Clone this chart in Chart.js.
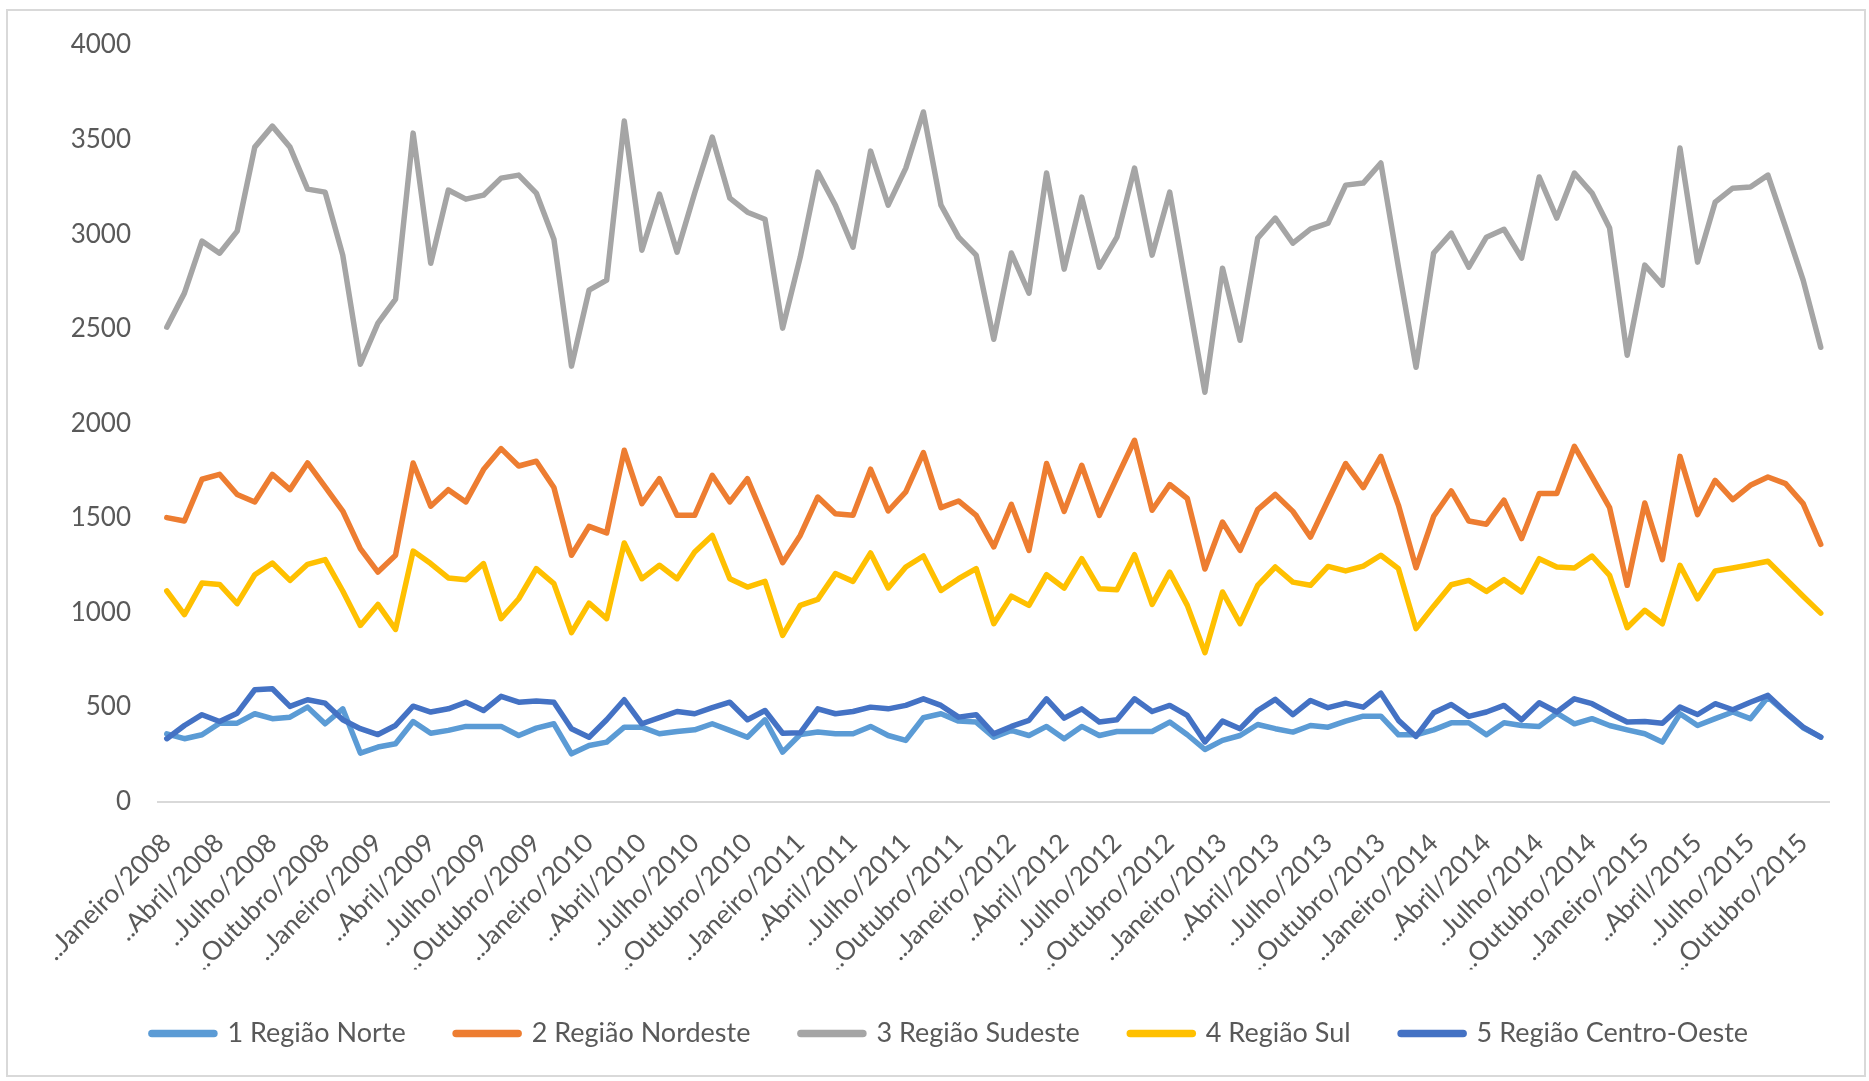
<!DOCTYPE html>
<html>
<head>
<meta charset="utf-8">
<script src="https://cdn.jsdelivr.net/npm/chart.js@4.4.0/dist/chart.umd.min.js"></script>
<style>
    html, body { margin: 0; padding: 0; background: #fff; }
    #frame { position: absolute; left: 6px; top: 9px; width: 1856px; height: 1064px; border: 2px solid #d9d9d9; }
    #wrap { position: absolute; left: 0; top: 0; width: 1869px; height: 1081px; }
</style>
</head>
<body>
<div id="frame"></div>
<div id="wrap"><canvas id="myChart"></canvas></div>
<script>
// months Jan/2008 .. Nov/2015
const meses = ['Janeiro', 'Fevereiro', 'Março', 'Abril', 'Maio', 'Junho', 'Julho', 'Agosto', 'Setembro', 'Outubro', 'Novembro', 'Dezembro'];
const anos = [2008, 2009, 2010, 2011, 2012, 2013, 2014, 2015];

const norte = [358,332,353,414,414,464,438,446,499,411,490,256,288,305,423,361,376,397,397,397,349,388,411,252,296,314,393,393,358,370,379,411,376,340,432,261,354,367,358,358,397,349,323,443,464,425,420,340,376,349,397,332,397,349,370,370,370,420,353,275,323,349,407,385,367,402,393,425,451,451,353,353,379,416,416,353,416,402,397,467,411,438,402,379,358,314,464,402,438,473,438,552,470,390,340];
const nordeste = [1501,1483,1704,1730,1623,1584,1730,1649,1790,1663,1536,1337,1213,1302,1790,1561,1649,1584,1755,1866,1774,1799,1660,1302,1455,1420,1857,1575,1707,1513,1513,1725,1584,1707,1487,1263,1407,1610,1522,1513,1757,1536,1637,1845,1554,1589,1513,1346,1571,1328,1787,1534,1778,1513,1713,1910,1540,1676,1602,1229,1478,1328,1543,1624,1534,1398,1593,1787,1660,1825,1566,1236,1508,1642,1483,1466,1593,1390,1628,1628,1878,1716,1554,1143,1578,1279,1825,1517,1698,1596,1672,1716,1681,1575,1360];
const sudeste = [2508,2688,2963,2899,3016,3460,3571,3460,3238,3222,2889,2312,2529,2656,3534,2846,3233,3185,3206,3296,3312,3217,2973,2302,2704,2757,3598,2915,3212,2905,3217,3513,3190,3116,3079,2503,2878,3328,3153,2931,3439,3153,3349,3646,3153,2984,2889,2444,2900,2688,3323,2815,3196,2825,2984,3349,2889,3222,2688,2164,2820,2439,2979,3085,2952,3026,3058,3259,3270,3376,2825,2296,2900,3005,2825,2984,3026,2873,3302,3085,3323,3217,3032,2360,2836,2730,3455,2852,3169,3243,3249,3312,3037,2757,2402];
const sul = [1113,988,1155,1148,1046,1199,1261,1169,1254,1279,1113,931,1042,910,1324,1258,1182,1173,1258,967,1072,1231,1152,893,1049,967,1367,1178,1249,1178,1319,1407,1178,1134,1164,878,1037,1069,1205,1164,1314,1129,1240,1298,1116,1178,1231,940,1086,1037,1199,1129,1284,1125,1120,1305,1042,1213,1037,787,1108,940,1143,1240,1160,1143,1243,1219,1245,1302,1231,914,1033,1146,1169,1111,1173,1108,1284,1240,1235,1298,1196,919,1011,940,1249,1072,1219,1235,1252,1270,1178,1085,996];
const centroOeste = [332,402,459,423,467,591,596,503,538,520,432,385,354,402,504,473,490,525,481,556,525,531,525,385,340,432,538,411,443,476,464,496,525,432,481,361,363,490,464,476,499,490,508,543,508,446,459,358,397,429,543,441,490,420,432,543,476,508,455,315,425,385,481,540,459,534,496,520,499,573,429,344,469,513,450,473,508,432,522,473,543,517,467,420,423,414,499,460,517,485,525,561,473,393,340];

const nomes = ['1 Região Norte', '2 Região Nordeste', '3 Região Sudeste', '4 Região Sul', '5 Região Centro-Oeste'];
const cores = ['#5B9BD5', '#ED7D31', '#A5A5A5', '#FFC000', '#4472C4'];
const yTicks = [0, 500, 1000, 1500, 2000, 2500, 3000, 3500, 4000];

// build category labels
let labels = [];
anos.forEach(ano => {
    meses.forEach(mes => {
        labels.push(`..${mes}/${ano}`);
    });
});
labels = labels.slice(0, norte.length);

const series = [norte, nordeste, sudeste, sul, centroOeste];
const fonte = 'Lato, "Open Sans", sans-serif';

// Excel centres the legend on the whole frame, not on the plot; nudge it right
const legendShift = {
    id: 'legendShift',
    afterLayout(chart) {
        chart.legend.left += 35;
        chart.legend.right += 35;
    }
};

const ctx = document.getElementById('myChart').getContext('2d');
const myChart = new Chart(ctx, {
    type: 'line',
    data: {
        labels: labels,
        datasets: series.map((vals, i) => ({
            label: nomes[i],
            data: vals,
            borderColor: cores[i],
            backgroundColor: cores[i],
            borderWidth: 5.5,
            pointRadius: 0,
            tension: 0,
            borderJoinStyle: 'round',
            borderCapStyle: 'round',
            order: 5 - i   // last series on top, like Excel
        }))
    },
    plugins: [legendShift],
    options: {
        responsive: true,
        maintainAspectRatio: false,
        animation: false,
        devicePixelRatio: 1,
        layout: {
            padding: { left: 0, right: 39, top: 45, bottom: 24 }
        },
        plugins: {
            tooltip: { enabled: false },
            legend: {
                position: 'bottom',
                labels: {
                    usePointStyle: true,
                    pointStyle: 'line',
                    pointStyleWidth: 62,
                    color: '#595959',
                    padding: 50.5,
                    font: { family: fonte, size: 27 },
                    sort: (a, b) => a.datasetIndex - b.datasetIndex,
                    generateLabels: function(chart) {
                        const items = Chart.defaults.plugins.legend.labels.generateLabels(chart);
                        items.forEach(it => { it.lineWidth = 7.5; it.lineCap = 'round'; });
                        return items;
                    }
                }
            }
        },
        scales: {
            x: {
                offset: true,
                grid: { display: false, drawTicks: false },
                border: { display: true, color: '#d9d9d9', width: 2 },
                ticks: {
                    autoSkip: false,
                    maxRotation: 45,
                    minRotation: 45,
                    padding: 26,
                    color: '#595959',
                    font: { family: fonte, size: 26 },
                    callback: function(val, index) {
                        return index % 3 === 0 ? this.getLabelForValue(val) : '';
                    }
                },
                afterFit: function(scale) { scale.height = 168; }
            },
            y: {
                min: 0,
                max: 4000,
                afterBuildTicks: function(scale) {
                    scale.ticks = yTicks.map(v => ({ value: v }));
                },
                grid: { display: false, drawTicks: false },
                border: { display: false },
                ticks: {
                    padding: 27,
                    color: '#595959',
                    font: { family: fonte, size: 26 },
                    callback: v => String(v)
                },
                afterFit: function(scale) { scale.width = 158; }
            }
        }
    }
});
</script>
</body>
</html>
